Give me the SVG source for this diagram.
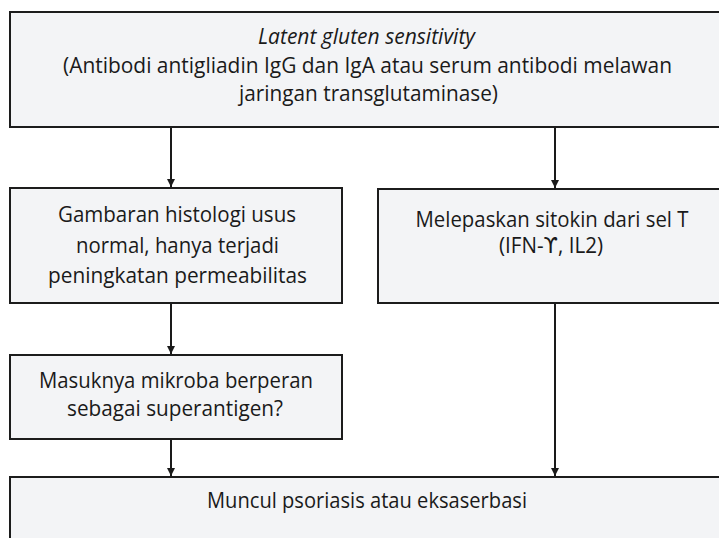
<svg xmlns="http://www.w3.org/2000/svg" width="719" height="538" viewBox="0 0 719 538">
  <defs>
    <marker id="arr" viewBox="0 0 10 10" refX="10" refY="5" markerUnits="userSpaceOnUse" markerWidth="9" markerHeight="8" orient="auto">
      <path d="M0,0 L10,5 L0,10 z" fill="#1a1a1a"/>
    </marker>
    <style>
      .box { fill: #f3f4f6; stroke: #1c1c1c; stroke-width: 2; }
      .t { font-family: "Open Sans", "Liberation Sans", sans-serif; font-size: 21px; fill: #1a1a1a; text-anchor: middle; }
      .it { font-style: italic; }
      .sym { font-family: "DejaVu Sans", sans-serif; }
      .conn line { stroke: #1a1a1a; stroke-width: 2; marker-end: url(#arr); }
    </style>
  </defs>
  <rect width="719" height="538" fill="#ffffff"/>

  <g id="node-latent">
    <rect class="box" x="10" y="12" width="730" height="115"/>
    <text class="t it" x="366.5" y="44" textLength="217" lengthAdjust="spacingAndGlyphs">Latent gluten sensitivity</text>
    <text class="t" x="367.5" y="73" textLength="609" lengthAdjust="spacingAndGlyphs">(Antibodi antigliadin IgG dan IgA atau serum antibodi melawan</text>
    <text class="t" x="368.5" y="101" textLength="259" lengthAdjust="spacingAndGlyphs">jaringan transglutaminase)</text>
  </g>

  <g id="node-histologi">
    <rect class="box" x="10" y="188" width="332" height="115"/>
    <text class="t" x="177" y="222" textLength="238" lengthAdjust="spacingAndGlyphs">Gambaran histologi usus</text>
    <text class="t" x="177.5" y="253" textLength="203" lengthAdjust="spacingAndGlyphs">normal, hanya terjadi</text>
    <text class="t" x="177.5" y="283" textLength="259" lengthAdjust="spacingAndGlyphs">peningkatan permeabilitas</text>
  </g>

  <g id="node-sitokin">
    <rect class="box" x="378" y="189" width="362" height="114"/>
    <text class="t" x="552" y="227" textLength="273" lengthAdjust="spacingAndGlyphs">Melepaskan sitokin dari sel T</text>
    <text class="t" x="551" y="253" textLength="104" lengthAdjust="spacingAndGlyphs">(IFN-<tspan class="sym">ϒ</tspan>, IL2)</text>
  </g>

  <g id="node-mikroba">
    <rect class="box" x="10" y="355" width="332" height="84"/>
    <text class="t" x="176" y="388" textLength="274" lengthAdjust="spacingAndGlyphs">Masuknya mikroba berperan</text>
    <text class="t" x="175" y="416" textLength="216" lengthAdjust="spacingAndGlyphs">sebagai superantigen?</text>
  </g>

  <g id="node-psoriasis">
    <rect class="box" x="10" y="477" width="730" height="80"/>
    <text class="t" x="367" y="508" textLength="320" lengthAdjust="spacingAndGlyphs">Muncul psoriasis atau eksaserbasi</text>
  </g>

  <g id="connectors" class="conn">
    <line x1="171" y1="128" x2="171" y2="187"/>
    <line x1="555" y1="128" x2="555" y2="188"/>
    <line x1="171" y1="304" x2="171" y2="354"/>
    <line x1="555" y1="304" x2="555" y2="476"/>
    <line x1="171" y1="440" x2="171" y2="476"/>
  </g>
</svg>
